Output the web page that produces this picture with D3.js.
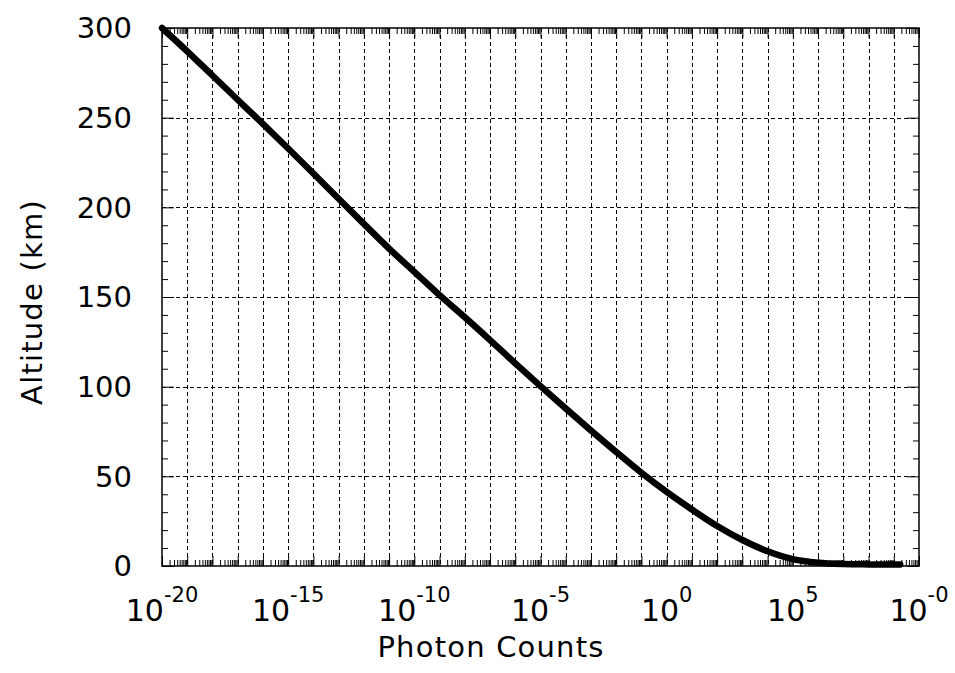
<!DOCTYPE html>
<html>
<head>
<meta charset="utf-8">
<script src="https://cdn.jsdelivr.net/npm/d3@7"></script>
<style>
  html, body { margin: 0; padding: 0; background: #fff; }
  svg { display: block; }
  text { font-family: "DejaVu Sans", sans-serif; fill: #000; }
</style>
</head>
<body>
<svg id="chart" width="955" height="673"></svg>
<script>
// Altitude profile of modelled photon counts
const altitudeKm = [300, 287, 273.5, 260, 246.5, 232.8, 218.9, 204.8, 190.8, 177, 164, 151, 138.7, 126, 113, 100.3,
  87.8, 75.6, 63.6, 52, 41.3, 31.5, 22.3, 14.5, 8.2, 3.8, 1.8, 1.1, 0.9, 0.8];
const photonCounts = [1e-20, 1e-19, 1e-18, 1e-17, 1e-16, 1e-15, 1e-14, 1e-13, 1e-12, 1e-11, 1e-10, 1e-9, 1e-8, 1e-7, 1e-6, 1e-5,
  1e-4, 1e-3, 1e-2, 1e-1, 1, 10, 100, 1e3, 1e4, 1e5, 1e6, 1e7, 1e8, 1.8e9];

// Axis ticks and labels
const xLabelTicks = [1e-20, 1e-15, 1e-10, 1e-5, 1e0, 1e5, 1e10];
const xLabelExponents = ["-20", "-15", "-10", "-5", "0", "5", "-0"];
const yLabelTicks = [0, 50, 100, 150, 200, 250, 300];

const svg = d3.select("#chart");
const plotLeft = 162, plotRight = 919, plotTop = 28, plotBottom = 566;

const x = d3.scaleLog().domain([1e-20, 1e10]).range([plotLeft, plotRight]);
const y = d3.scaleLinear().domain([0, 300]).range([plotBottom, plotTop]);

// decade and minor positions on the log axis
const decades = d3.range(-20, 11).map(e => Math.pow(10, e));
const minors = [];
d3.range(-20, 10).forEach(e => {
  for (let k = 2; k <= 9; k++) minors.push(k * Math.pow(10, e));
});
const yMinors = d3.range(0, 301, 10).filter(v => v % 50 !== 0);

// dashed grid
const grid = svg.append("g").attr("stroke", "#000").attr("stroke-width", 1)
  .attr("stroke-dasharray", "4,3").attr("fill", "none");
grid.selectAll("line.gx").data(decades.slice(1, -1)).join("line")
  .attr("x1", d => Math.round(x(d)) + 0.5).attr("x2", d => Math.round(x(d)) + 0.5)
  .attr("y1", plotTop).attr("y2", plotBottom);
grid.selectAll("line.gy").data(yLabelTicks.slice(1, -1)).join("line")
  .attr("x1", plotLeft).attr("x2", plotRight)
  .attr("y1", d => Math.round(y(d)) + 0.5).attr("y2", d => Math.round(y(d)) + 0.5);

// inward ticks on all four sides
function styleAxis(g) {
  g.select(".domain").remove();
  g.selectAll(".tick line").attr("stroke", "#000").attr("stroke-width", 1);
  g.selectAll(".tick text").remove();
}
svg.append("g").attr("transform", `translate(0,${plotBottom})`)
  .call(d3.axisBottom(x).tickValues(minors).tickSize(-6).tickFormat("")).call(styleAxis);
svg.append("g").attr("transform", `translate(0,${plotBottom})`)
  .call(d3.axisBottom(x).tickValues(decades).tickSize(-10).tickFormat("")).call(styleAxis);
svg.append("g").attr("transform", `translate(0,${plotTop})`)
  .call(d3.axisTop(x).tickValues(minors).tickSize(-6).tickFormat("")).call(styleAxis);
svg.append("g").attr("transform", `translate(0,${plotTop})`)
  .call(d3.axisTop(x).tickValues(decades).tickSize(-10).tickFormat("")).call(styleAxis);
svg.append("g").attr("transform", `translate(${plotLeft},0)`)
  .call(d3.axisLeft(y).tickValues(yMinors).tickSize(-6).tickFormat("")).call(styleAxis);
svg.append("g").attr("transform", `translate(${plotLeft},0)`)
  .call(d3.axisLeft(y).tickValues(yLabelTicks).tickSize(-12).tickFormat("")).call(styleAxis);
svg.append("g").attr("transform", `translate(${plotRight},0)`)
  .call(d3.axisRight(y).tickValues(yMinors).tickSize(-6).tickFormat("")).call(styleAxis);
svg.append("g").attr("transform", `translate(${plotRight},0)`)
  .call(d3.axisRight(y).tickValues(yLabelTicks).tickSize(-12).tickFormat("")).call(styleAxis);

// frame
svg.append("rect").attr("x", plotLeft).attr("y", plotTop)
  .attr("width", plotRight - plotLeft).attr("height", plotBottom - plotTop)
  .attr("fill", "none").attr("stroke", "#000").attr("stroke-width", 1.5);

// y tick labels
svg.append("g").selectAll("text").data(yLabelTicks).join("text")
  .attr("x", 132).attr("y", d => y(d))
  .attr("dy", "0.36em").attr("text-anchor", "end")
  .style("font-size", "29px").text(d => d);

// x tick labels: 10 with superscript exponent
const xl = svg.append("g").selectAll("text").data(xLabelTicks).join("text")
  .attr("x", d => x(d)).attr("y", 621).attr("text-anchor", "middle")
  .style("font-size", "30px");
xl.append("tspan").text("10");
xl.append("tspan").attr("dy", -19).style("font-size", "21px")
  .text((d, i) => xLabelExponents[i]);

// axis titles
svg.append("text").attr("x", 491).attr("y", 657).attr("text-anchor", "middle")
  .style("font-size", "29px").style("letter-spacing", "1.2px").text("Photon Counts");
svg.append("text").attr("transform", "translate(42,302) rotate(-90)")
  .attr("text-anchor", "middle").style("font-size", "29px").style("letter-spacing", "1.2px")
  .text("Altitude (km)");

// profile curve
const line = d3.line()
  .x((d, i) => x(photonCounts[i]))
  .y(d => y(d))
  .curve(d3.curveMonotoneX);
svg.append("path").datum(altitudeKm)
  .attr("d", line).attr("fill", "none").attr("stroke", "#000")
  .attr("stroke-width", 6.5).attr("stroke-linecap", "round").attr("stroke-linejoin", "round");
</script>
</body>
</html>
